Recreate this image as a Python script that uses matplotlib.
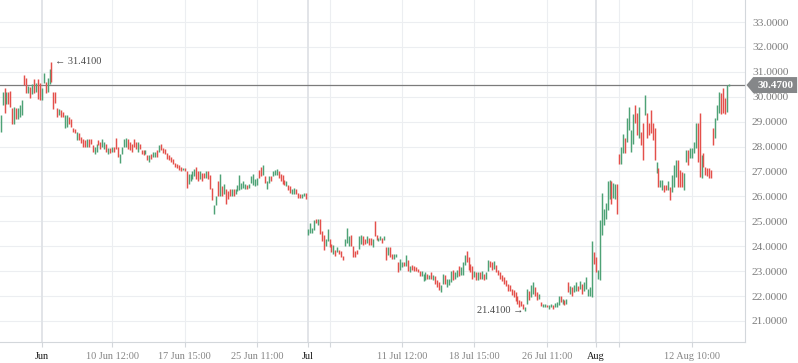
import matplotlib
matplotlib.use("Agg")
import matplotlib.pyplot as plt
import matplotlib.transforms as mtransforms
from matplotlib.patches import Polygon
import numpy as np

plt.rcParams.update({
    "font.family": ["Liberation Serif", "DejaVu Sans"],
    "figure.facecolor": "white",
    "savefig.facecolor": "white",
})

# bar lows / highs, one per period
bar_low = [
    28.58, 29.67, 29.35, 29.70, 29.70, 29.60, 28.90, 28.90, 29.10, 29.10,
    29.20, 29.27, 30.47, 30.15, 30.15, 29.95, 30.10, 30.15, 30.20, 29.90,
    29.85, 29.85, 30.55, 30.15, 30.20, 30.50, 30.60, 29.50, 29.75, 29.20,
    29.25, 29.20, 29.20, 28.75, 28.80, 28.90, 28.80, 28.60, 28.55, 28.26,
    28.26, 28.14, 28.00, 28.00, 28.00, 28.00, 28.10, 27.80, 27.70, 27.80,
    28.05, 27.90, 28.00, 27.90, 27.80, 27.70, 27.75, 27.80, 27.80, 27.90,
    27.60, 27.35, 27.70, 28.00, 28.00, 27.90, 27.85, 27.80, 28.00, 27.90,
    27.80, 27.90, 27.70, 27.65, 27.70, 27.45, 27.40, 27.50, 27.60, 27.60,
    27.60, 27.80, 27.85, 27.75, 27.70, 27.50, 27.45, 27.40, 27.30, 27.20,
    27.15, 27.05, 27.00, 27.05, 27.00, 26.35, 26.50, 26.60, 26.70, 26.80,
    26.70, 26.60, 26.70, 26.60, 26.75, 26.75, 26.70, 26.30, 25.85, 25.30,
    25.65, 26.00, 26.00, 26.00, 26.10, 25.70, 25.90, 26.00, 26.00, 26.00,
    26.10, 26.20, 26.25, 26.30, 26.35, 26.30, 26.30, 26.35, 26.55, 26.45,
    26.40, 26.45, 26.75, 26.80, 26.85, 26.55, 26.30, 26.55, 26.60, 26.80,
    26.85, 26.85, 26.75, 26.60, 26.50, 26.45, 26.40, 26.25, 26.15, 26.10,
    26.10, 26.10, 25.95, 25.95, 25.95, 26.00, 25.90,
    # July
    24.45, 24.55, 24.55, 24.65, 24.95, 24.85, 24.50, 24.20, 23.85, 24.00,
    24.20, 23.95, 23.75, 23.70, 23.60, 23.75, 23.70, 23.55, 23.45, 24.00,
    24.15, 24.00, 24.00, 23.55, 23.55, 23.70, 23.90, 24.10, 24.05, 24.10,
    24.15, 24.05, 24.05, 23.95, 24.40, 24.25, 24.20, 24.25, 24.15, 24.25,
    23.45, 23.65, 23.55, 23.50, 23.50, 23.55, 22.95, 23.05, 23.15, 23.20,
    23.20, 23.00, 22.95, 23.05, 23.00, 23.00, 22.95, 22.80, 22.80, 22.60,
    22.65, 22.70, 22.70, 22.70, 22.65, 22.50, 22.35, 22.25, 22.15, 22.50,
    22.50, 22.35, 22.45, 22.55, 22.65, 22.70, 22.75, 22.80, 22.85, 22.85,
    23.25, 23.35, 23.05, 22.95, 22.70, 22.75, 22.65, 22.65, 22.70, 22.70,
    22.65, 22.70, 23.00, 23.15, 23.05, 23.10, 22.95, 22.85, 22.70, 22.60,
    22.50, 22.40, 22.20, 22.20, 22.05, 21.95, 21.80, 21.70, 21.55, 21.60,
    21.50, 21.41, 21.70, 21.85, 21.95, 22.10, 22.00, 21.85, 21.90, 21.60,
    21.55, 21.55, 21.55, 21.50, 21.55, 21.50, 21.55, 21.55, 21.65, 21.75,
    21.70, 21.65, 21.70, 22.15, 22.10, 22.00, 22.15, 22.20, 22.20, 22.30,
    22.10, 22.20, 22.30, 22.00, 22.00,
    # August
    21.95, 23.30, 22.95, 22.70, 22.66, 24.45, 24.85, 25.10, 25.45, 25.90,
    25.70, 25.95, 25.90, 25.30, 27.30, 27.30, 27.75, 27.75, 28.20, 28.66,
    27.80, 28.10, 28.94, 28.46, 28.35, 28.06, 27.46, 29.25, 28.34, 28.46,
    28.54, 28.26, 27.46, 26.94, 26.38, 26.38, 26.26, 26.18, 26.26, 26.26,
    25.86, 26.18, 26.38, 26.76, 26.38, 26.38, 26.38, 26.26, 27.38, 27.26,
    27.54, 27.54, 27.74, 27.94, 27.38, 26.78, 26.74, 27.18, 26.86, 26.82,
    26.74, 26.74, 28.06, 28.34, 29.07, 29.35, 29.30, 29.35, 29.30, 29.38,
    30.43,
]

bar_high = [
    29.27, 30.20, 30.35, 30.20, 30.20, 30.25, 29.55, 29.60, 29.55, 29.55,
    29.67, 29.87, 30.87, 30.75, 30.45, 30.40, 30.50, 30.70, 30.55, 30.70,
    30.55, 30.35, 30.95, 30.60, 30.75, 31.10, 31.41, 30.20, 30.20, 29.55,
    29.50, 29.45, 29.40, 29.27, 29.27, 29.20, 29.10, 28.74, 28.70, 28.60,
    28.55, 28.40, 28.30, 28.25, 28.30, 28.30, 28.30, 28.06, 28.00, 28.10,
    28.25, 28.20, 28.30, 28.20, 28.10, 27.95, 27.95, 28.00, 28.00, 28.35,
    28.00, 27.70, 28.00, 28.30, 28.35, 28.30, 28.20, 28.10, 28.30, 28.20,
    28.20, 28.10, 27.86, 27.85, 27.86, 27.65, 27.66, 27.70, 27.80, 27.80,
    27.85, 28.06, 28.10, 27.95, 27.90, 27.75, 27.65, 27.60, 27.50, 27.35,
    27.30, 27.25, 27.20, 27.15, 27.15, 27.00, 26.90, 26.90, 27.00, 27.10,
    27.20, 27.00, 27.00, 26.95, 26.95, 27.00, 27.00, 26.86, 26.35, 25.65,
    26.00, 26.60, 26.90, 26.40, 26.50, 26.30, 26.20, 26.30, 26.30, 26.30,
    26.30, 26.45, 26.85, 26.55, 26.60, 26.50, 26.45, 26.50, 26.80, 26.90,
    26.70, 26.75, 27.05, 27.20, 27.25, 26.80, 26.60, 26.80, 26.80, 27.00,
    27.05, 27.10, 27.00, 26.90, 26.85, 26.65, 26.60, 26.45, 26.40, 26.30,
    26.35, 26.30, 26.15, 26.10, 26.10, 26.15, 26.15,
    # July
    24.70, 24.95, 24.75, 25.05, 25.10, 25.10, 25.10, 24.60, 24.45, 24.30,
    24.70, 24.30, 24.10, 24.05, 23.85, 23.95, 23.85, 23.80, 23.60, 24.30,
    24.75, 24.40, 24.45, 24.00, 23.80, 23.85, 24.40, 24.45, 24.40, 24.30,
    24.40, 24.35, 24.35, 24.30, 25.00, 24.45, 24.35, 24.40, 24.35, 24.40,
    23.95, 23.95, 23.95, 23.70, 23.70, 23.70, 23.35, 23.50, 23.35, 23.35,
    23.65, 23.45, 23.20, 23.25, 23.20, 23.15, 23.10, 23.00, 23.00, 22.90,
    22.95, 22.90, 22.85, 22.95, 22.85, 22.80, 22.65, 22.55, 22.45, 22.90,
    22.85, 22.70, 22.70, 23.00, 23.05, 22.95, 23.05, 23.20, 23.15, 23.35,
    23.65, 23.80, 23.55, 23.30, 23.20, 23.00, 22.95, 22.95, 22.95, 23.00,
    22.90, 22.95, 23.45, 23.40, 23.35, 23.40, 23.25, 23.05, 22.95, 22.85,
    22.75, 22.65, 22.50, 22.45, 22.30, 22.25, 22.15, 22.00, 21.85, 21.80,
    21.70, 21.55, 22.30, 22.20, 22.45, 22.55, 22.35, 22.15, 22.10, 21.75,
    21.70, 21.70, 21.65, 21.65, 21.70, 21.65, 21.72, 21.75, 22.00, 22.00,
    21.90, 21.85, 21.90, 22.55, 22.40, 22.35, 22.45, 22.55, 22.40, 22.60,
    22.50, 22.55, 22.75, 22.30, 22.35,
    # August
    24.20, 23.75, 23.55, 23.05, 25.05, 26.15, 25.50, 25.75, 26.60, 26.65,
    26.60, 26.55, 26.50, 26.50, 27.70, 28.00, 28.50, 28.35, 29.15, 29.60,
    28.66, 29.30, 29.65, 29.35, 29.60, 28.60, 28.94, 30.07, 29.35, 28.94,
    29.47, 28.94, 28.75, 27.38, 27.14, 26.66, 26.66, 26.46, 26.46, 26.60,
    26.38, 26.86, 27.26, 27.46, 27.46, 27.06, 26.96, 26.94, 27.86, 27.86,
    27.94, 27.94, 28.18, 28.94, 28.94, 29.35, 27.66, 27.74, 27.18, 27.14,
    27.14, 27.06, 28.74, 29.15, 29.67, 30.19, 30.15, 30.35, 29.95, 30.47,
    30.50,
]

# G = close above open, R = close below open
bar_dir = "".join([
    "GGRGRRRGRG", "GGRRGRGRGR", "RGGRGGRRRR", "GRRGGRRRRG", "RRRRGRRRGG",
    "RRGGRGRGRR", "RGGGGRRRRR", "GRRRGRGRGG", "RGRRRRRRRR", "RRRGRRGGGG",
    "RRGRRGRRRG", "GRGRGRRRGR", "GGGGGGRGGG", "GGRRGRGGRG", "GGRRRRGRRG",
    "GRRRGGR",
    "GGGGRGRRRG", "GRRGRGRRRG", "GGRRRRGGRR", "GRRGRRGGRG", "RGRRGGRGGR",
    "GRGRRRRRGG", "GRGRGRRRGG", "RGGGRGGRGG", "GRRRRGRGRG", "RGGRRGRRRR",
    "RRRRRRRRRR", "RGGRGGRRGR", "GGRGGRGGGR", "GRGRGRGGRG", "RGGGG",
    "GRRGGGGGGG", "RGGRRGGRGG", "GGRRGRRGRR", "RRRGRGGRRG", "RGGGRRRGGR",
    "GGGGRRGRRR", "RRRGGGRRRGG",
])

tick_pos = [21, 57, 94, 131, 157, 168, 205, 242, 279, 304, 316, 353]
tick_text = ["Jun", "10 Jun 12:00", "17 Jun 15:00", "25 Jun 11:00", "Jul", "",
             "11 Jul 12:00", "18 Jul 15:00", "26 Jul 11:00", "Aug", "", "12 Aug 10:00"]
month_labels = ("Jun", "Jul", "Aug")
last_price = 30.47

UP, DOWN = "#4ea276", "#e4504b"
GRID, GRID_MAJOR, AXIS = "#eceef1", "#dfe2e6", "#d3d7db"

fig = plt.figure(figsize=(7.98, 3.63), dpi=100)
ax = fig.add_axes([0, 21 / 363, 745 / 798, 342 / 363])

n = len(bar_low)
idx = np.arange(n)
colors = [UP if d == "G" else DOWN for d in bar_dir]

# grid
for v in range(21, 34):
    ax.axhline(v, color=GRID, lw=0.8, zorder=0)
for p, t in zip(tick_pos, tick_text):
    major = t in month_labels
    ax.axvline(p, color=GRID_MAJOR if major else GRID, lw=1.3 if major else 0.8, zorder=0)

ax.axhline(last_price, color="#7b7b7b", lw=0.9, zorder=1)
ax.vlines(idx, bar_low, bar_high, colors=colors, lw=1.05, zorder=2)

ax.set_xlim(-0.3, n + 7.2)
ax.set_ylim(20.157, 33.883)

for s in ("top", "left"):
    ax.spines[s].set_visible(False)
for s in ("right", "bottom"):
    ax.spines[s].set_color(AXIS)
    ax.spines[s].set_linewidth(0.8)

ax.yaxis.tick_right()
ax.set_yticks(range(21, 34))
ax.set_yticklabels([f"{v:.4f}" for v in range(21, 34)])
ax.tick_params(axis="y", length=0, pad=5, labelsize=8.2, labelcolor="#7c7c7c")

ax.set_xticks(tick_pos)
ax.set_xticklabels(tick_text)
ax.tick_params(axis="x", length=3.5, color=AXIS, pad=4, labelsize=7.4)
for lbl in ax.get_xticklabels():
    lbl.set_color("#1a1a1a" if lbl.get_text() in month_labels else "#858585")

# high / low markers
hi_i = int(np.argmax(bar_high))
lo_i = int(np.argmin(bar_low))
ax.text(hi_i + 1.8, bar_high[hi_i], "\u2190 %.4f" % bar_high[hi_i], ha="left", va="center",
        fontsize=7.4, color="#4a4a4a", zorder=3)
ax.text(lo_i - 1.0, bar_low[lo_i], "%.4f \u2192" % bar_low[lo_i], ha="right", va="center",
        fontsize=7.4, color="#4a4a4a", zorder=3)

# current price tag on the right axis
tr = mtransforms.blended_transform_factory(ax.transAxes, ax.transData)
hh = 0.32
tag = Polygon([(1.002, last_price), (1.011, last_price + hh), (1.07, last_price + hh),
               (1.07, last_price - hh), (1.011, last_price - hh)],
              closed=True, transform=tr, clip_on=False, facecolor="#858789",
              edgecolor="none", zorder=5)
ax.add_patch(tag)
ax.text(1.0405, last_price, f"{last_price:.4f}", transform=tr, ha="center", va="center",
        fontsize=8, fontweight="bold", color="white", zorder=6, clip_on=False)

fig.savefig("out.png", dpi=100)
